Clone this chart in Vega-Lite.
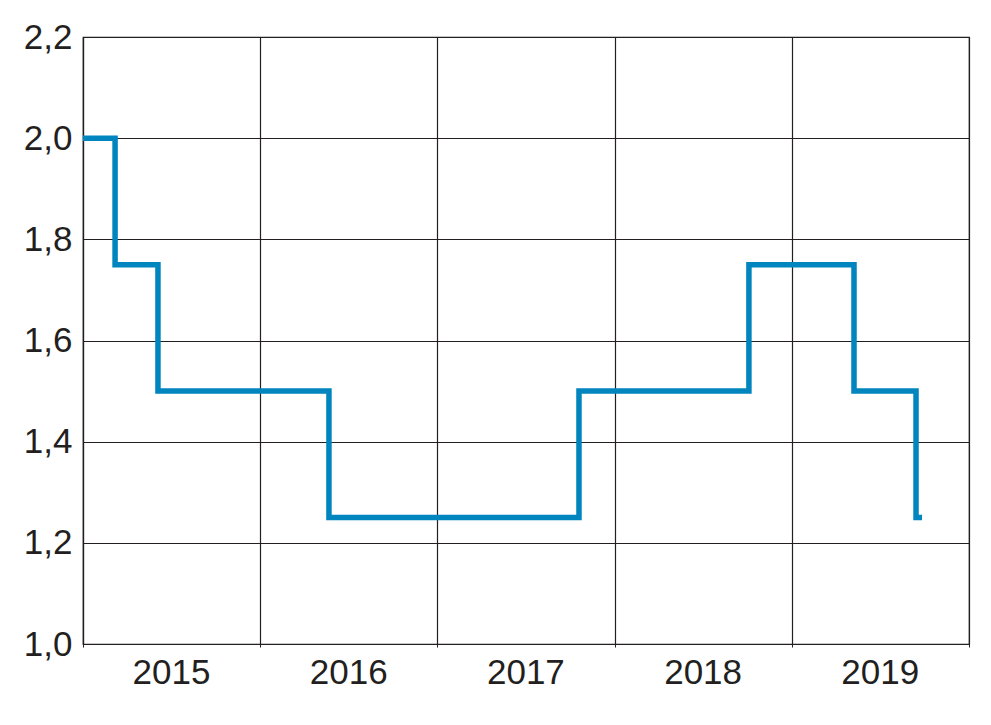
{
  "$schema": "https://vega.github.io/schema/vega-lite/v6.json",
  "width": 886,
  "height": 607,
  "autosize": {"type": "none"},
  "padding": {"left": 83, "top": 37, "right": 22, "bottom": 81},
  "background": "white",
  "config": {
    "view": {"stroke": "#231f20", "strokeWidth": 1.2},
    "axis": {
      "labelFont": "Liberation Sans",
      "labelFontSize": 35,
      "labelColor": "#231f20",
      "labelFlush": false,
      "gridColor": "#231f20",
      "gridOpacity": 1,
      "gridWidth": 1.2,
      "domainColor": "#231f20",
      "domainWidth": 1.2,
      "tickColor": "#231f20",
      "title": null
    }
  },
  "data": {
    "values": [
      {"t": 2015.0, "rate": 2.0},
      {"t": 2015.181, "rate": 1.75},
      {"t": 2015.423, "rate": 1.5},
      {"t": 2016.388, "rate": 1.25},
      {"t": 2017.799, "rate": 1.5},
      {"t": 2018.758, "rate": 1.75},
      {"t": 2019.351, "rate": 1.5},
      {"t": 2019.701, "rate": 1.25},
      {"t": 2019.735, "rate": 1.25}
    ]
  },
  "mark": {"type": "line", "interpolate": "step-after", "color": "#0085bf", "strokeWidth": 5.5, "clip": false},
  "encoding": {
    "x": {
      "field": "t",
      "type": "quantitative",
      "scale": {"domain": [2015, 2020], "nice": false, "zero": false},
      "axis": {
        "values": [2015, 2016, 2017, 2018, 2019, 2020],
        "labelExpr": "datum.value == 2020 ? '' : '' + datum.value",
        "labelOffset": 88,
        "labelPadding": 8,
        "labelAlign": "center",
        "tickSize": 3,
        "grid": true
      }
    },
    "y": {
      "field": "rate",
      "type": "quantitative",
      "scale": {"domain": [1.0, 2.2], "nice": false, "zero": false},
      "axis": {
        "values": [1.0, 1.2, 1.4, 1.6, 1.8, 2.0, 2.2],
        "labelExpr": "replace(format(datum.value, '.1f'), '.', ',')",
        "ticks": false,
        "labelPadding": 11,
        "grid": true
      }
    }
  }
}
